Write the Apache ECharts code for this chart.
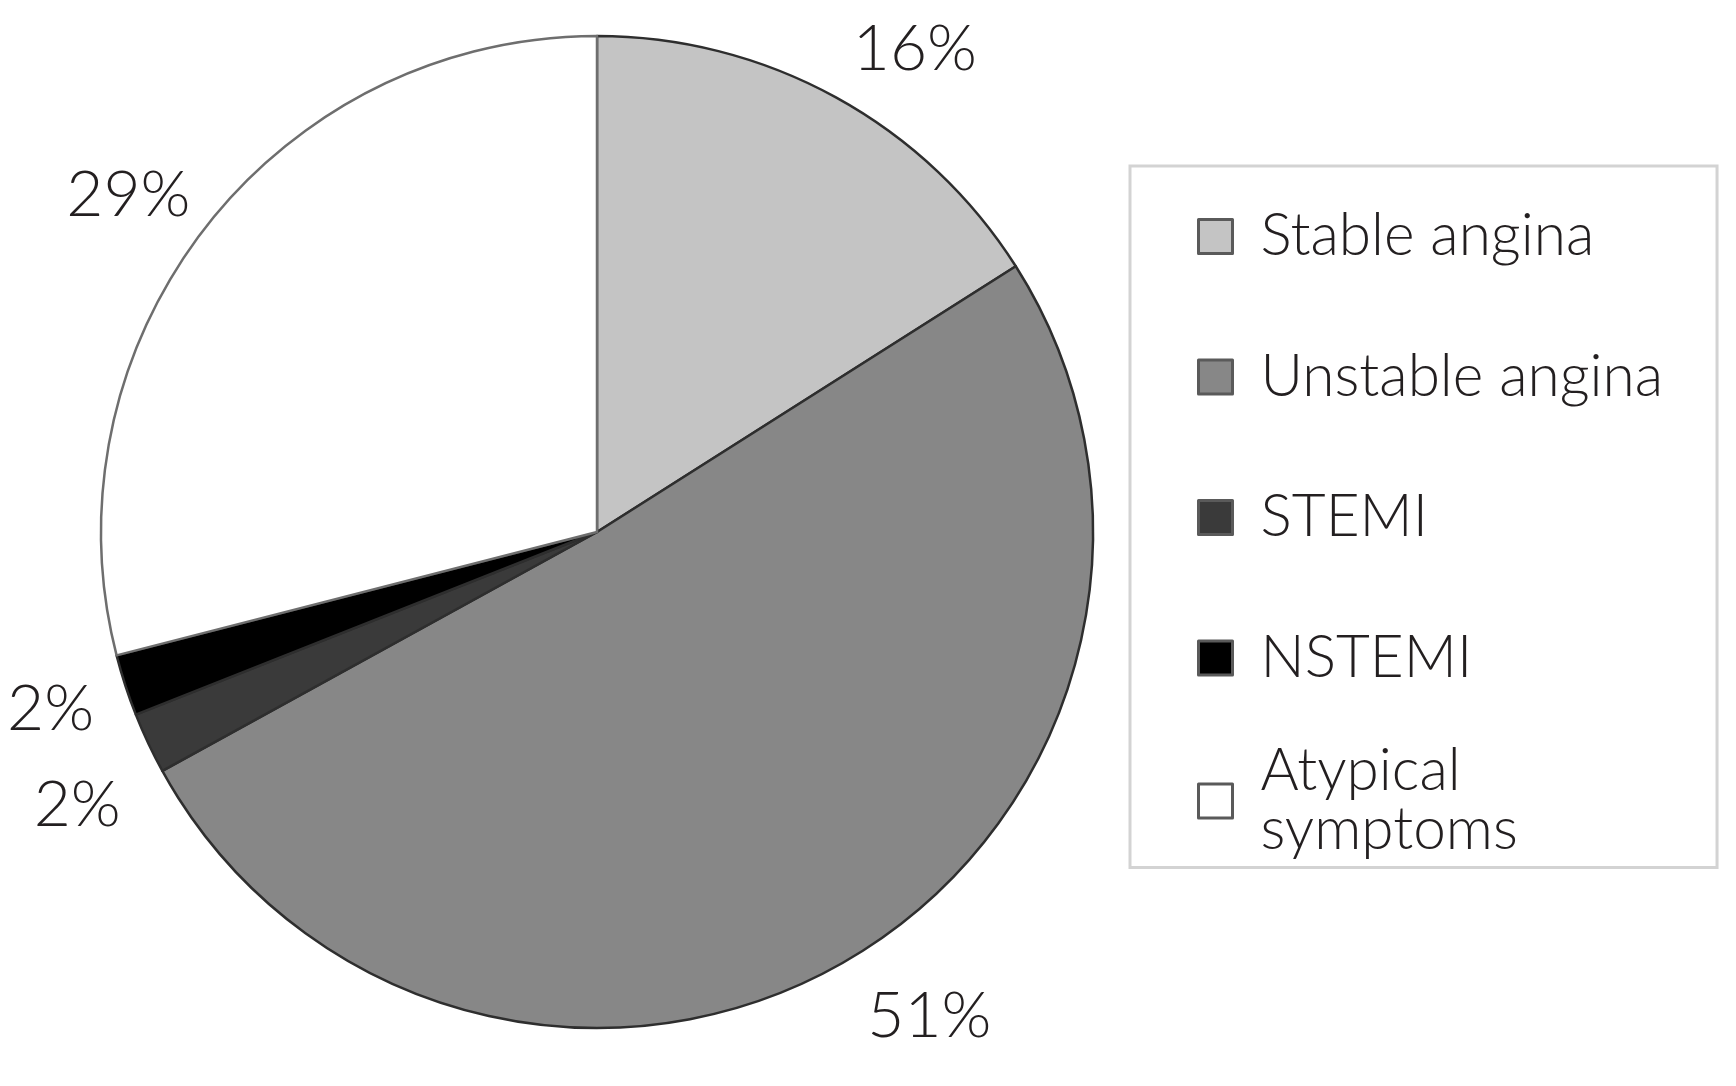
<!DOCTYPE html>
<html>
<head>
<meta charset="utf-8">
<title>Presentation</title>
<script src="https://cdn.jsdelivr.net/npm/echarts@6/dist/echarts.min.js"></script>
<style>
  html, body { margin: 0; padding: 0; background: #fff; }
  #chart { width: 1736px; height: 1086px; }
</style>
</head>
<body>
<div id="chart"></div>
<script>
// categories and their shares (%)
const categories = ['Stable angina', 'Unstable angina', 'STEMI', 'NSTEMI', 'Atypical symptoms'];
const shares = [16, 51, 2, 2, 29];

const textColor = '#231f20';
const labelSize = 64;

const chart = echarts.init(document.getElementById('chart'));

const legendText = {
  color: textColor,
  fontFamily: 'Lato, sans-serif',
  fontWeight: 300,
  fontSize: 58.5,
  lineHeight: 59,
  padding: [0, 0, 0, 23]
};
const legendIcon = { borderColor: '#5a5a5a', borderWidth: 3 };

const option = {
  backgroundColor: '#fff',
  animation: false,
  color: ['#c4c4c4', '#878787', '#3a3a3a', '#000000', '#ffffff'],
  legend: [
    {
      // first four entries, this one also draws the frame
      orient: 'vertical',
      left: 1130,
      top: 166,
      padding: [41, 54, 180, 67],
      itemGap: 81.5,
      itemWidth: 34,
      itemHeight: 34,
      selectedMode: false,
      borderColor: '#d3d3d3',
      borderWidth: 3,
      icon: 'rect',
      itemStyle: legendIcon,
      textStyle: legendText,
      data: categories.slice(0, 4)
    },
    {
      // two-line entry
      orient: 'vertical',
      left: 1197,
      top: 742,
      padding: 0,
      itemWidth: 34,
      itemHeight: 34,
      selectedMode: false,
      icon: 'rect',
      itemStyle: legendIcon,
      textStyle: legendText,
      formatter: name => name.replace(' ', '\n'),
      data: categories.slice(4)
    }
  ],
  series: [
    {
      type: 'pie',
      center: [597, 532],
      radius: 496,
      startAngle: 90,
      clockwise: true,
      avoidLabelOverlap: false,
      emphasis: { disabled: true },
      itemStyle: { borderColor: '#2e2e2e', borderWidth: 2.5 },
      label: {
        show: true,
        position: 'outside',
        formatter: '{c}%',
        color: textColor,
        fontFamily: 'Lato, sans-serif',
        fontWeight: 300,
        fontSize: labelSize,
        lineHeight: 96
      },
      // invisible guide line, only used to place the labels
      labelLine: { show: true, length: 35, length2: 0, lineStyle: { opacity: 0 } },
      labelLayout: function (params) {
        const pts = params.labelLinePoints;
        if (!pts || pts.length < 2) return {};
        const dx = pts[1][0] - pts[0][0];
        const dy = pts[1][1] - pts[0][1];
        const len = Math.sqrt(dx * dx + dy * dy) || 1;
        const w = params.labelRect.width;
        const ux = dx / len;
        return {
          x: pts[1][0] + (ux > 0 ? 1 : ux) * w / 2,
          y: pts[1][1] + dy / len * labelSize * 0.4 + 5,
          align: 'center',
          verticalAlign: 'middle',
          moveOverlap: 'shiftY'
        };
      },
      data: categories.map((name, i) => ({
        name: name,
        value: shares[i],
        itemStyle: i === 4 ? { borderColor: '#6e6e6e' } : undefined
      }))
    }
  ]
};

chart.setOption(option);
</script>
</body>
</html>
